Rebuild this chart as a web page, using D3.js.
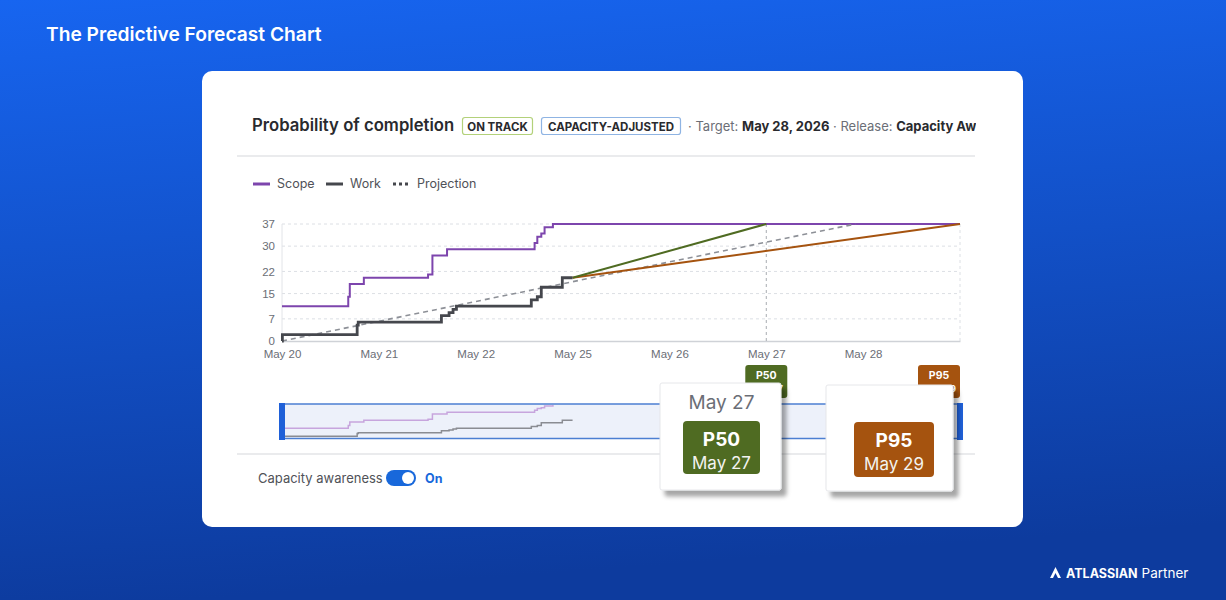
<!DOCTYPE html>
<html lang="en">
<head>
  <meta charset="UTF-8" />
  <title>The Predictive Forecast Chart</title>
  <style>
    html, body {
      margin: 0; padding: 0;
      width: 1226px; height: 600px;
      overflow: hidden;
      font-family: Inter, "Noto Sans", sans-serif;
    }
    svg { display: block; }
    .grid line { stroke: #dcdfe4; stroke-dasharray: 3,3; }
    .tick-label { font-size: 11.5px; fill: #6b6e76; }
  </style>
</head>
<body>
  <svg id="chart" width="1226" height="600"></svg>

  <script src="https://d3js.org/d3.v7.min.js"></script>
  <script>
    // x axis is in working days (weekend skipped), index 0 = May 20
    const xLabels = ["May 20", "May 21", "May 22", "May 25", "May 26", "May 27", "May 28"];
    const yTicks = [0, 7, 15, 22, 30, 37];

    // [working-day index, count]
    const scope = [
      [0, 11], [0.684, 14], [0.70, 18], [0.845, 20], [1.508, 21], [1.553, 27],
      [1.704, 29], [2.608, 31], [2.636, 33], [2.677, 34], [2.711, 36], [2.797, 37], [7, 37]
    ];
    const work = [
      [0, 0], [0.004, 2], [0.776, 5], [0.787, 6], [1.646, 8], [1.725, 9], [1.766, 10],
      [1.801, 11], [2.574, 13], [2.636, 14], [2.677, 17], [2.894, 20], [3, 20]
    ];
    const projection = [[0, 0], [5.92, 37]];
    const p50 = [[3, 20], [5, 37]];
    const p95 = [[3, 20], [7, 37]];
    const forecasts = [
      { name: "P50", date: "May 27", at: 5, color: "#4f6b22" },
      { name: "P95", date: "May 29", at: 7, color: "#a5530f" }
    ];

    const svg = d3.select("#chart");
    const defs = svg.append("defs");

    const bg = defs.append("linearGradient").attr("id", "bg")
      .attr("x1", 0).attr("y1", 0).attr("x2", 0.15).attr("y2", 1);
    bg.append("stop").attr("offset", 0).attr("stop-color", "#1765f0");
    bg.append("stop").attr("offset", 1).attr("stop-color", "#0d3b9e");

    const shadow = defs.append("filter").attr("id", "shadow")
      .attr("x", "-20%").attr("y", "-20%").attr("width", "150%").attr("height", "150%");
    shadow.append("feDropShadow")
      .attr("dx", 5).attr("dy", 6).attr("stdDeviation", 2)
      .attr("flood-color", "#000").attr("flood-opacity", 0.35);

    defs.append("clipPath").attr("id", "headClip")
      .append("rect").attr("x", 230).attr("y", 100).attr("width", 746).attr("height", 50);

    svg.append("rect").attr("width", 1226).attr("height", 600).attr("fill", "url(#bg)");

    svg.append("text")
      .attr("x", 46).attr("y", 41)
      .attr("fill", "#fff")
      .style("font-size", "19.2px").style("font-weight", 600)
      .text("The Predictive Forecast Chart");

    // atlassian partner mark
    const logo = svg.append("g").attr("transform", "translate(1050,578)");
    logo.append("path")
      .attr("d", "M0,0 L5.5,-11 L11,0 L8,0 L5.5,-5 L3,0 Z")
      .attr("fill", "#fff");
    const brand = logo.append("text").attr("x", 16).attr("y", 0).attr("fill", "#fff")
      .style("font-size", "12.5px").style("font-weight", 700)
      .text("ATLASSIAN");
    const bw = brand.node().getComputedTextLength();
    logo.append("text").attr("x", 16 + bw + 4).attr("y", 0).attr("fill", "#fff")
      .style("font-size", "13.5px").style("font-weight", 400)
      .text("Partner");

    // card
    svg.append("rect")
      .attr("x", 202).attr("y", 71).attr("width", 821).attr("height", 456)
      .attr("rx", 10).attr("fill", "#fff");

    // header
    const head = svg.append("g").attr("clip-path", "url(#headClip)");
    head.append("text").attr("x", 252).attr("y", 131)
      .attr("fill", "#292a2e")
      .style("font-size", "16.7px").style("font-weight", 600)
      .text("Probability of completion");

    const badges = [
      { label: "ON TRACK", x: 462, w: 70, stroke: "#b3d17a" },
      { label: "CAPACITY-ADJUSTED", x: 541, w: 139, stroke: "#8fb4e3" }
    ];
    badges.forEach(b => {
      head.append("rect").attr("x", b.x + 0.5).attr("y", 117.5)
        .attr("width", b.w).attr("height", 17).attr("rx", 2.5)
        .attr("fill", "#fff").attr("stroke", b.stroke).attr("stroke-width", 1.2);
      head.append("text").attr("x", b.x + b.w / 2 + 0.5).attr("y", 130.5)
        .attr("text-anchor", "middle").attr("fill", "#292a2e")
        .style("font-size", "11.5px").style("font-weight", 700)
        .text(b.label);
    });

    const meta = head.append("text").attr("x", 688).attr("y", 131)
      .style("font-size", "13px");
    meta.append("tspan").attr("fill", "#6b6e76").text("· Target: ");
    meta.append("tspan").attr("fill", "#292a2e").style("font-weight", 700).text("May 28, 2026");
    meta.append("tspan").attr("fill", "#6b6e76").text("  · Release: ");
    meta.append("tspan").attr("fill", "#292a2e").style("font-weight", 700).text("Capacity Awareness");

    svg.append("line").attr("x1", 237).attr("x2", 975).attr("y1", 156).attr("y2", 156)
      .attr("stroke", "#e3e4e7").attr("stroke-width", 1.5);
    svg.append("line").attr("x1", 237).attr("x2", 975).attr("y1", 454).attr("y2", 454)
      .attr("stroke", "#e3e4e7").attr("stroke-width", 1.5);

    // legend
    const legendItems = [
      { label: "Scope", x: 253, color: "#7d45ad", dash: null },
      { label: "Work", x: 326, color: "#45474d", dash: null },
      { label: "Projection", x: 393, color: "#45474d", dash: "3,3" }
    ];
    const legend = svg.append("g");
    legendItems.forEach(d => {
      legend.append("line").attr("x1", d.x).attr("x2", d.x + 17)
        .attr("y1", 184).attr("y2", 184)
        .attr("stroke", d.color).attr("stroke-width", 3)
        .attr("stroke-dasharray", d.dash);
      legend.append("text").attr("x", d.x + 24).attr("y", 188)
        .attr("fill", "#505258").style("font-size", "12.5px")
        .text(d.label);
    });

    // main chart
    const x = d3.scaleLinear().domain([0, 7]).range([282, 960]);
    const y = d3.scaleLinear().domain([0, 37]).range([341, 224]);

    const grid = svg.append("g").attr("class", "grid");
    grid.selectAll("line.h").data(yTicks.slice(1)).join("line")
      .attr("class", "h")
      .attr("x1", x(0)).attr("x2", x(7))
      .attr("y1", d => y(d)).attr("y2", d => y(d));
    grid.append("line")
      .attr("x1", x(7)).attr("x2", x(7)).attr("y1", y(37)).attr("y2", y(0));

    svg.append("line").attr("x1", x(0)).attr("x2", x(0)).attr("y1", y(37)).attr("y2", y(0))
      .attr("stroke", "#e2e4e8");

    const yAxis = svg.append("g")
      .attr("transform", `translate(${x(0)},0)`)
      .call(d3.axisLeft(y).tickValues(yTicks).tickSize(0).tickPadding(7));
    yAxis.select(".domain").remove();
    yAxis.selectAll("text").attr("class", "tick-label").attr("font-family", null).attr("font-size", null);

    const xAxis = svg.append("g")
      .attr("transform", `translate(0,${y(0)})`)
      .call(d3.axisBottom(x).tickValues(d3.range(xLabels.length))
        .tickFormat(i => xLabels[i]).tickSize(0).tickPadding(9));
    xAxis.select(".domain").attr("stroke", "#cfd2d7").attr("stroke-width", 1.5);
    xAxis.selectAll("text").attr("class", "tick-label").attr("font-family", null).attr("font-size", null);

    // target marker
    svg.append("line")
      .attr("x1", x(5)).attr("x2", x(5)).attr("y1", y(37)).attr("y2", y(0))
      .attr("stroke", "#a9acb2").attr("stroke-dasharray", "3,3");

    const line = d3.line().x(d => x(d[0])).y(d => y(d[1]));
    const stepLine = d3.line().x(d => x(d[0])).y(d => y(d[1])).curve(d3.curveStepAfter);

    svg.append("path").datum(scope).attr("d", stepLine)
      .attr("fill", "none").attr("stroke", "#7d45ad").attr("stroke-width", 2);
    svg.append("path").datum(projection).attr("d", line)
      .attr("fill", "none").attr("stroke", "#8d9097").attr("stroke-width", 1.6)
      .attr("stroke-dasharray", "5,4");
    svg.append("path").datum(p95).attr("d", line)
      .attr("fill", "none").attr("stroke", forecasts[1].color).attr("stroke-width", 2);
    svg.append("path").datum(p50).attr("d", line)
      .attr("fill", "none").attr("stroke", forecasts[0].color).attr("stroke-width", 2);
    svg.append("path").datum(work).attr("d", stepLine)
      .attr("fill", "none").attr("stroke", "#45474d").attr("stroke-width", 2.8);

    // forecast tags under the axis
    forecasts.forEach(f => {
      const tx = Math.min(x(f.at) - 21, x(7) - 42);
      const g = svg.append("g").attr("transform", `translate(${tx},365)`);
      g.append("rect").attr("width", 42).attr("height", 33).attr("rx", 3).attr("fill", f.color);
      g.append("text").attr("x", 21).attr("y", 14).attr("text-anchor", "middle")
        .attr("fill", "#fff").style("font-size", "10.5px").style("font-weight", 700)
        .text(f.name);
      g.append("text").attr("x", 21).attr("y", 27).attr("text-anchor", "middle")
        .attr("fill", "#fff").style("font-size", "9.5px").style("font-weight", 600)
        .text(f.date);
    });

    // overview brush
    const miniY = d3.scaleLinear().domain([0, 37]).range([438, 405]);
    const miniLine = d3.line().x(d => x(d[0])).y(d => miniY(d[1])).curve(d3.curveStepAfter);

    svg.append("rect").attr("x", x(0)).attr("y", 404).attr("width", x(7) - x(0)).attr("height", 34.5)
      .attr("fill", "#edf1fa").attr("stroke", "#4c7fd2").attr("stroke-width", 1.5);
    svg.append("path").datum(scope.filter(d => d[0] < 3)).attr("d", miniLine)
      .attr("fill", "none").attr("stroke", "#c7a5dd").attr("stroke-width", 1.5);
    svg.append("path").datum(work).attr("d", miniLine)
      .attr("fill", "none").attr("stroke", "#8a8c92").attr("stroke-width", 1.5);
    [x(0) - 3, x(7) - 3].forEach(hx => {
      svg.append("rect").attr("x", hx).attr("y", 403).attr("width", 6).attr("height", 37)
        .attr("fill", "#1f60d8");
    });

    // tooltips
    const cards = [
      { f: forecasts[0], x: 660, y: 383, w: 121, h: 107, header: "May 27", bx: 683, by: 421, bw: 77, bh: 53 },
      { f: forecasts[1], x: 826, y: 385, w: 127, h: 106, header: "", bx: 854, by: 422, bw: 80, bh: 55 }
    ];
    cards.forEach(c => {
      const g = svg.append("g");
      g.append("rect").attr("x", c.x).attr("y", c.y).attr("width", c.w).attr("height", c.h)
        .attr("rx", 2).attr("fill", "#fff").attr("stroke", "#e6e7ea").attr("filter", "url(#shadow)");
      g.append("text").attr("x", c.bx + c.bw / 2).attr("y", 409).attr("text-anchor", "middle")
        .attr("fill", "#6b6e76").style("font-size", "19px")
        .text(c.header);
      g.append("rect").attr("x", c.bx).attr("y", c.by).attr("width", c.bw).attr("height", c.bh)
        .attr("rx", 4).attr("fill", c.f.color);
      g.append("text").attr("x", c.bx + c.bw / 2).attr("y", c.by + 25).attr("text-anchor", "middle")
        .attr("fill", "#fff").style("font-size", "19px").style("font-weight", 700)
        .text(c.f.name);
      g.append("text").attr("x", c.bx + c.bw / 2).attr("y", c.by + 48).attr("text-anchor", "middle")
        .attr("fill", "#f3f3f0").style("font-size", "17px")
        .text(c.f.date);
    });

    // capacity toggle
    svg.append("text").attr("x", 258).attr("y", 483)
      .attr("fill", "#505258").style("font-size", "13px")
      .text("Capacity awareness");
    svg.append("rect").attr("x", 386).attr("y", 470).attr("width", 30).attr("height", 16)
      .attr("rx", 8).attr("fill", "#1868db");
    svg.append("circle").attr("cx", 408).attr("cy", 478).attr("r", 6).attr("fill", "#fff");
    svg.append("text").attr("x", 425).attr("y", 483)
      .attr("fill", "#1868db").style("font-size", "12.5px").style("font-weight", 700)
      .text("On");
  </script>
</body>
</html>
